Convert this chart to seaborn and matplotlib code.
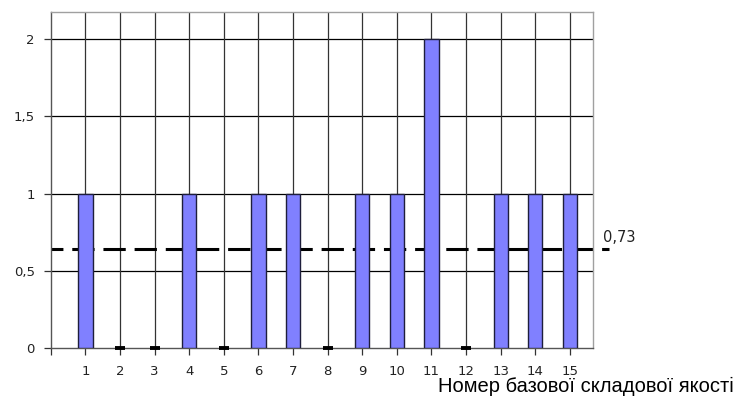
import matplotlib
matplotlib.use("Agg")
import matplotlib.pyplot as plt
import seaborn as sns
import pandas as pd
import numpy as np

# data
categories = list(range(1, 16))
values = [1, 0, 0, 1, 0, 1, 1, 0, 1, 1, 2, 0, 1, 1, 1]
ref_value = 0.64          # drawn position of the dashed reference line
ref_label = "0,73"
y_ticks = [0, 0.5, 1, 1.5, 2]
y_tick_labels = ["0", "0,5", "1", "1,5", "2"]
x_label = "Номер базової складової якості"

sns.set_theme(style="white")
plt.rcParams["font.family"] = ["DejaVu Sans"]

df = pd.DataFrame({"cat": categories, "val": values})

fig = plt.figure(figsize=(7.43, 4.03), dpi=100)
W, H = 743, 403
ax = fig.add_axes([50.9 / W, (H - 348) / H, (593 - 50.9) / W, (348 - 12) / H])

sns.barplot(data=df, x="cat", y="val", native_scale=True, width=0.41,
            color="#8080ff", saturation=1, edgecolor="#1e1e3c",
            linewidth=1.0, ax=ax, zorder=3)
for p in ax.patches:
    if p.get_height() == 0:
        p.set_linewidth(2.8)
        p.set_edgecolor("black")
        p.set_clip_on(False)
        p.set_capstyle("butt")
        x0 = p.get_x()
        w = p.get_width()
        p.set_x(x0 + w * 0.15)
        p.set_width(w * 0.7)

ax.set_xlim(0, 15.67)
ax.set_ylim(0, 2.175)

# grid
for y in y_ticks[1:]:
    ax.axhline(y, color="black", lw=0.9, zorder=1)
for x in categories:
    ax.axvline(x, color="#333333", lw=0.9, zorder=1)

# reference dashed line
ax.axhline(ref_value, xmin=0, xmax=(609 - 50.9) / (593 - 50.9), color="black",
           lw=2.2, ls=(3.4, (7.3, 2.9)), zorder=2, clip_on=False)
ax.text(15.95, ref_value + 0.025, ref_label, fontsize=10.5, color="#222222",
        ha="left", va="bottom", clip_on=False)

ax.set_yticks(y_ticks)
ax.set_yticklabels(y_tick_labels)
ax.set_xticks([0] + categories)
ax.set_xticklabels([""] + [str(c) for c in categories])
ax.tick_params(axis="both", which="both", direction="out", length=5,
               width=0.9, color="#333333", labelsize=9.5, labelcolor="#222222",
               left=True, bottom=True)
ax.tick_params(axis="x", pad=7)
ax.tick_params(axis="y", pad=6.5)
ax.set_xlabel("")
ax.set_ylabel("")

for side in ["top", "right"]:
    ax.spines[side].set_color("#a0a0a0")
    ax.spines[side].set_linewidth(1.0)
for side in ["left", "bottom"]:
    ax.spines[side].set_color("#555555")
    ax.spines[side].set_linewidth(1.0)

fig.text(734 / W, 1 - 386 / H, x_label, fontsize=14.5, color="black",
         ha="right", va="center", family=["Liberation Sans", "DejaVu Sans"])

fig.savefig("out.png", dpi=100)
